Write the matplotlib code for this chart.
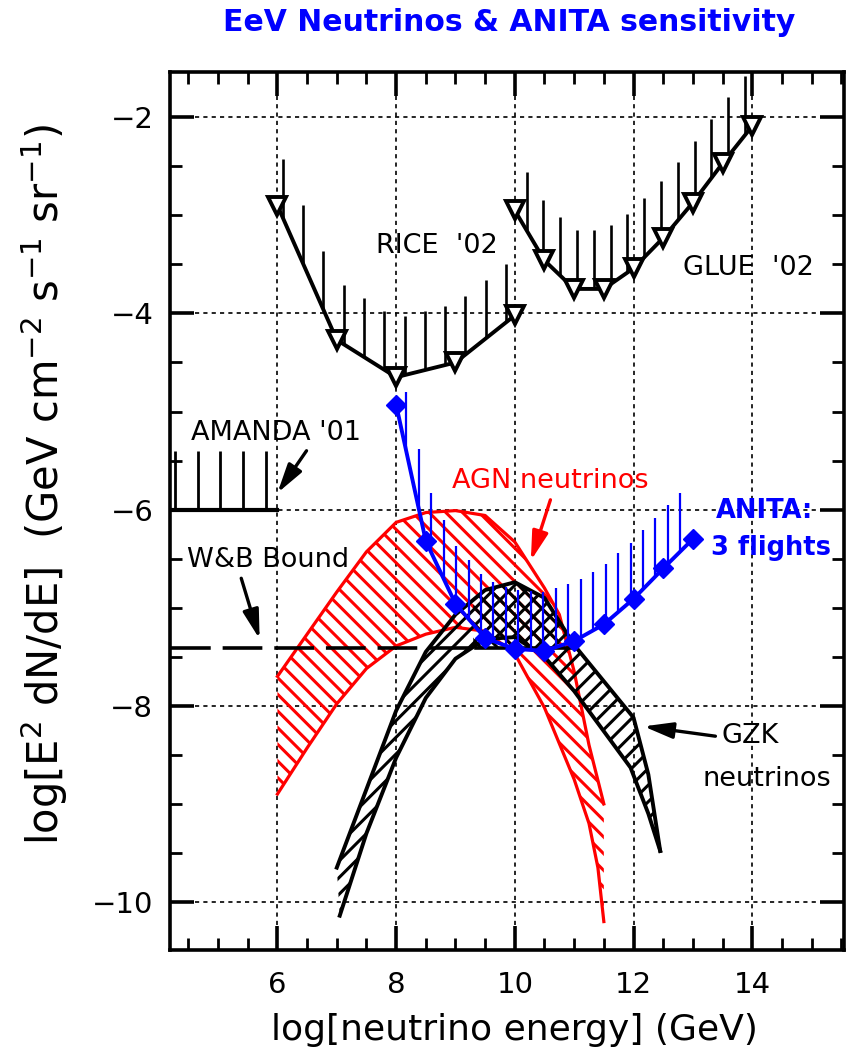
import numpy as np
import matplotlib
matplotlib.use("Agg")
import matplotlib.pyplot as plt
from matplotlib.patches import Polygon
from matplotlib.ticker import MultipleLocator, FixedLocator

plt.rcParams["font.family"] = ["DejaVu Sans"]
plt.rcParams["mathtext.fontset"] = "dejavusans"
plt.rcParams["hatch.linewidth"] = 2.2

# ---- data: log10(E/GeV) and log10(E^2 dN/dE) ----
rice_logE = [6.0, 7.0, 8.0, 9.0, 10.0]
rice_flux = [-2.90, -4.27, -4.65, -4.50, -4.02]

glue_logE = [10.0, 10.5, 11.0, 11.5, 12.0, 12.5, 13.0, 13.5, 14.0]
glue_flux = [-2.95, -3.46, -3.75, -3.75, -3.54, -3.23, -2.87, -2.47, -2.09]

amanda_logE = [4.2, 6.0]
amanda_flux = [-6.0, -6.0]

wb_flux = -7.41
wb_dashed_logE = [4.2, 9.35]
wb_solid_logE = [9.35, 11.0]

anita_logE = [8.0, 8.5, 9.0, 9.5, 10.0, 10.5, 11.0, 11.5, 12.0, 12.5, 13.0]
anita_flux = [-4.93, -6.32, -6.96, -7.31, -7.42, -7.44, -7.34, -7.17, -6.91, -6.60, -6.30]

agn_hi_logE = [6.0, 6.5, 7.0, 7.5, 8.0, 8.5, 9.0, 9.5, 10.0, 10.5, 10.75, 11.0, 11.25, 11.5]
agn_hi_flux = [-7.70, -7.27, -6.84, -6.43, -6.13, -6.03, -6.01, -6.06, -6.33, -6.80,
               -7.07, -7.65, -8.40, -9.00]
agn_lo_logE = [6.0, 6.5, 7.0, 7.5, 8.0, 8.5, 9.0, 9.5, 10.0, 10.5, 11.0, 11.25, 11.4, 11.5]
agn_lo_flux = [-8.90, -8.43, -7.98, -7.62, -7.39, -7.27, -7.20, -7.24, -7.47, -8.02,
               -8.75, -9.20, -9.65, -10.20]

gzk_hi_logE = [7.0, 7.5, 8.0, 8.5, 9.0, 9.5, 10.0, 10.5, 11.0, 11.5, 12.0, 12.25, 12.45]
gzk_hi_flux = [-9.65, -8.85, -8.05, -7.45, -7.07, -6.82, -6.74, -6.90, -7.38, -7.75,
               -8.12, -8.70, -9.48]
gzk_lo_logE = [7.05, 7.5, 8.0, 8.5, 9.0, 9.5, 10.0, 10.5, 11.0, 11.5, 11.95, 12.25, 12.45]
gzk_lo_flux = [-10.14, -9.30, -8.53, -7.92, -7.52, -7.32, -7.30, -7.50, -7.85, -8.26,
               -8.63, -9.10, -9.48]

x_major = [6, 8, 10, 12, 14]
y_major = [-10, -8, -6, -4, -2]

RED = "#ff0000"
BLUE = "#0000ff"


def limit_ticks(ax, x, y, start, step, stop, color, lw, length=0.6, z=4):
    """Vertical upper-limit strokes rising from a curve."""
    xt = np.arange(start, stop, step)
    yt = np.interp(xt, x, y)
    ax.vlines(xt, yt, yt + length, color=color, lw=lw, zorder=z)


fig = plt.figure(figsize=(8.48, 10.61), dpi=100)
ax = fig.add_axes([0.2005, 0.1046, 0.795, 0.8274])
ax.set_xlim(4.19, 15.55)
ax.set_ylim(-10.49, -1.54)

# grid
for xv in x_major:
    ax.axvline(xv, color="black", lw=1.2, ls=(0, (2.5, 2.5)), zorder=0)
for yv in y_major:
    ax.axhline(yv, color="black", lw=1.2, ls=(0, (2.5, 2.5)), zorder=0)

# AGN band
agn_poly = np.column_stack([agn_hi_logE + agn_lo_logE[::-1],
                            agn_hi_flux + agn_lo_flux[::-1]])
ax.add_patch(Polygon(agn_poly, closed=True, facecolor="none", edgecolor=RED,
                     hatch="\\\\", lw=0, zorder=2))
ax.plot(agn_hi_logE, agn_hi_flux, color=RED, lw=2.3, zorder=2.5)
ax.plot(agn_lo_logE, agn_lo_flux, color=RED, lw=2.3, zorder=2.5)

# GZK band
gzk_poly = np.column_stack([gzk_hi_logE + gzk_lo_logE[::-1],
                            gzk_hi_flux + gzk_lo_flux[::-1]])
ax.add_patch(Polygon(gzk_poly, closed=True, facecolor="none", edgecolor="black",
                     hatch="//", lw=0, zorder=3))
dome_x = np.linspace(9.3, 10.75, 30)
dome_top = np.interp(dome_x, gzk_hi_logE, gzk_hi_flux)
dome_poly = np.column_stack([np.r_[dome_x, dome_x[::-1]],
                             np.r_[dome_top, np.full(dome_x.size, wb_flux)]])
ax.add_patch(Polygon(dome_poly, closed=True, facecolor="none", edgecolor="black",
                     hatch="\\\\", lw=0, zorder=3))
ax.plot(gzk_hi_logE, gzk_hi_flux, color="black", lw=2.8, zorder=3.2)
ax.plot(gzk_lo_logE, gzk_lo_flux, color="black", lw=2.8, zorder=3.2)

# Waxman-Bahcall bound
ax.plot(wb_dashed_logE, [wb_flux, wb_flux], color="black", lw=2.6,
        ls=(0, (11, 3.3)), zorder=3.5)
ax.plot(wb_solid_logE, [wb_flux, wb_flux], color="black", lw=2.6, zorder=3.5)

# AMANDA limit
ax.plot(amanda_logE, amanda_flux, color="black", lw=3.0, zorder=4)
limit_ticks(ax, amanda_logE, amanda_flux, 4.27, 0.383, 6.0, "black", 2.0)

# RICE and GLUE limits
limit_ticks(ax, rice_logE, rice_flux, 6.09, 0.342, 10.0, "black", 1.9)
limit_ticks(ax, glue_logE, glue_flux, 10.2, 0.283, 14.0, "black", 1.9)
for xs, ys in ((rice_logE, rice_flux), (glue_logE, glue_flux)):
    ax.plot(xs, ys, color="black", lw=2.8, marker="v", ms=13, mfc="white",
            mec="black", mew=2.8, zorder=4.5)

# ANITA sensitivity
limit_ticks(ax, anita_logE, anita_flux, 8.17, 0.21, 12.9, BLUE, 1.6, z=5)
ax.plot(anita_logE, anita_flux, color=BLUE, lw=2.8, marker="D", ms=10,
        mfc=BLUE, mec=BLUE, zorder=5.5)

# labels on the plot
lab = dict(fontsize=19.5, ha="center", va="center", zorder=6)
ax.text(8.69, -3.31, "RICE  '02", **lab)
ax.text(13.93, -3.54, "GLUE  '02", **lab)
ax.text(5.98, -5.22, "AMANDA '01", **lab)
ax.text(5.85, -6.51, "W&B Bound", **lab)
ax.text(10.59, -5.71, "AGN neutrinos", color=RED, **lab)
ax.text(13.97, -8.31, "GZK", **lab)
ax.text(14.24, -8.75, "neutrinos", **lab)
ax.text(13.38, -6.01, "ANITA:", color=BLUE, fontsize=18.5, ha="left",
        va="center", fontweight="bold", zorder=6)
ax.text(13.3, -6.39, "3 flights", color=BLUE, fontsize=18.5, ha="left",
        va="center", fontweight="bold", zorder=6)

arrow = dict(arrowstyle="-|>,head_length=0.8,head_width=0.22", lw=2.4,
             mutation_scale=22, shrinkA=0, shrinkB=0)
ax.annotate("", xy=(6.0, -5.83), xytext=(6.49, -5.40),
            arrowprops=dict(color="black", **arrow), zorder=6)
ax.annotate("", xy=(5.70, -7.32), xytext=(5.39, -6.70),
            arrowprops=dict(color="black", **arrow), zorder=6)
ax.annotate("", xy=(10.27, -6.52), xytext=(10.60, -5.90),
            arrowprops=dict(color=RED, **arrow), zorder=6)
ax.annotate("", xy=(12.17, -8.21), xytext=(13.38, -8.31),
            arrowprops=dict(color="black", **arrow), zorder=6)

# axes, ticks
ax.xaxis.set_major_locator(FixedLocator(x_major))
ax.yaxis.set_major_locator(FixedLocator(y_major))
ax.xaxis.set_minor_locator(MultipleLocator(0.5))
ax.yaxis.set_minor_locator(MultipleLocator(0.5))
ax.tick_params(which="both", direction="in", top=True, right=True,
               labelsize=21, colors="black")
ax.tick_params(which="major", length=17, width=2.6)
ax.tick_params(which="minor", length=8.5, width=2.0)
ax.tick_params(axis="x", which="major", pad=15)
ax.tick_params(axis="y", which="major", pad=12)
for s in ax.spines.values():
    s.set_linewidth(2.6)

fig.text(0.607, 0.029, "log[neutrino energy] (GeV)", fontsize=26,
         ha="center", va="center")
fig.text(0.052, 0.543,
         r"log[E$^2$ dN/dE]  (GeV cm$^{-2}$ s$^{-1}$ sr$^{-1}$)",
         fontsize=30, rotation=90, ha="center", va="center")
fig.text(0.600, 0.979, "EeV Neutrinos & ANITA sensitivity", color=BLUE,
         fontsize=21.5, fontweight="bold", ha="center", va="center")

fig.savefig("out.png", dpi=100)
